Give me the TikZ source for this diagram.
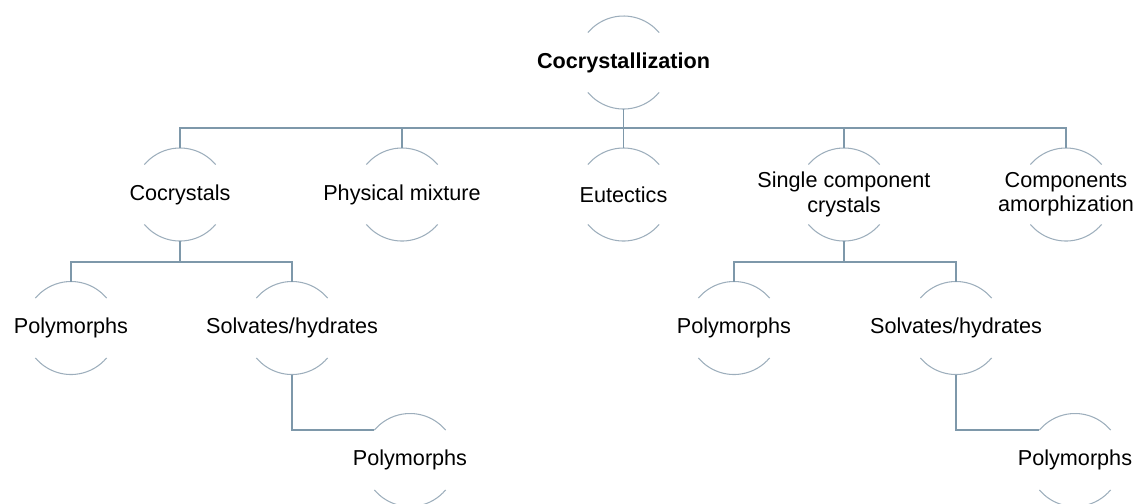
\documentclass[tikz,border=0pt]{standalone}
\usepackage{fontspec}
\setmainfont{Liberation Sans}
\usepackage{tikz}
\usetikzlibrary{shapes,arrows}
\definecolor{linkblue}{HTML}{7E98AA}
\definecolor{rimgray}{HTML}{9DAEBC}
\tikzstyle{bubble} = [circle, draw=none, minimum size=1.86cm, inner sep=0pt, outer sep=0pt]
\tikzstyle{caption} = [font=\fontsize{12.3}{13.8}\selectfont, align=center, inner sep=0pt]
\tikzstyle{rim} = [draw=rimgray, line width=0.6pt]
\tikzstyle{link} = [draw=linkblue, line width=1.1pt]

\begin{document}
\begin{tikzpicture}
\useasboundingbox (0,0) rectangle (22.66,-10.06);
\clip (0,0) rectangle (22.66,-10.06);

\node[bubble, label={[caption, font=\fontsize{12.3}{13.8}\selectfont\bfseries]center:Cocrystallization}] at (12.47, -1.25) (top) {};

\node[bubble, label={[caption]center:Cocrystals}] at (3.60, -3.89) (cocr) {};
\node[bubble, label={[caption]center:Physical mixture}] at (8.04, -3.89) (phys) {};
\node[bubble, label={[caption]center:Eutectics}] at (12.47, -3.89) (eut) {};
\node[bubble, label={[caption]center:Single component\\crystals}] at (16.88, -3.89) (single) {};
\node[bubble, label={[caption]center:Components\\amorphization}] at (21.32, -3.89) (amorph) {};

\node[bubble, label={[caption]center:Polymorphs}] at (1.42, -6.56) (polyco) {};
\node[bubble, label={[caption]center:Solvates/hydrates}] at (5.84, -6.56) (solvco) {};
\node[bubble, label={[caption]center:Polymorphs}] at (14.68, -6.56) (polysi) {};
\node[bubble, label={[caption]center:Solvates/hydrates}] at (19.12, -6.56) (solvsi) {};

\node[bubble, label={[caption]center:Polymorphs}] at (8.20, -9.20) (polysolvco) {};
\node[bubble, label={[caption]center:Polymorphs}] at (21.50, -9.20) (polysolvsi) {};

\foreach \n in {top, cocr, phys, eut, single, amorph, polyco, solvco, polysi, solvsi, polysolvco, polysolvsi} {
  \path[rim] (\n.40) arc[start angle=40, end angle=140, radius=0.93cm];
  \path[rim] (\n.220) arc[start angle=220, end angle=320, radius=0.93cm];
}

\foreach \c in {cocr, phys, eut, single, amorph}
  \path[link] (top.south) -- ++(0,-0.38) -| (\c.north);

\foreach \c in {polyco, solvco}
  \path[link] (cocr.south) -- ++(0,-0.42) -| (\c.north);
\foreach \c in {polysi, solvsi}
  \path[link] (single.south) -- ++(0,-0.42) -| (\c.north);

\path[link] (solvco.south) |- (polysolvco.140);
\path[link] (solvsi.south) |- (polysolvsi.140);
\end{tikzpicture}
\end{document}
